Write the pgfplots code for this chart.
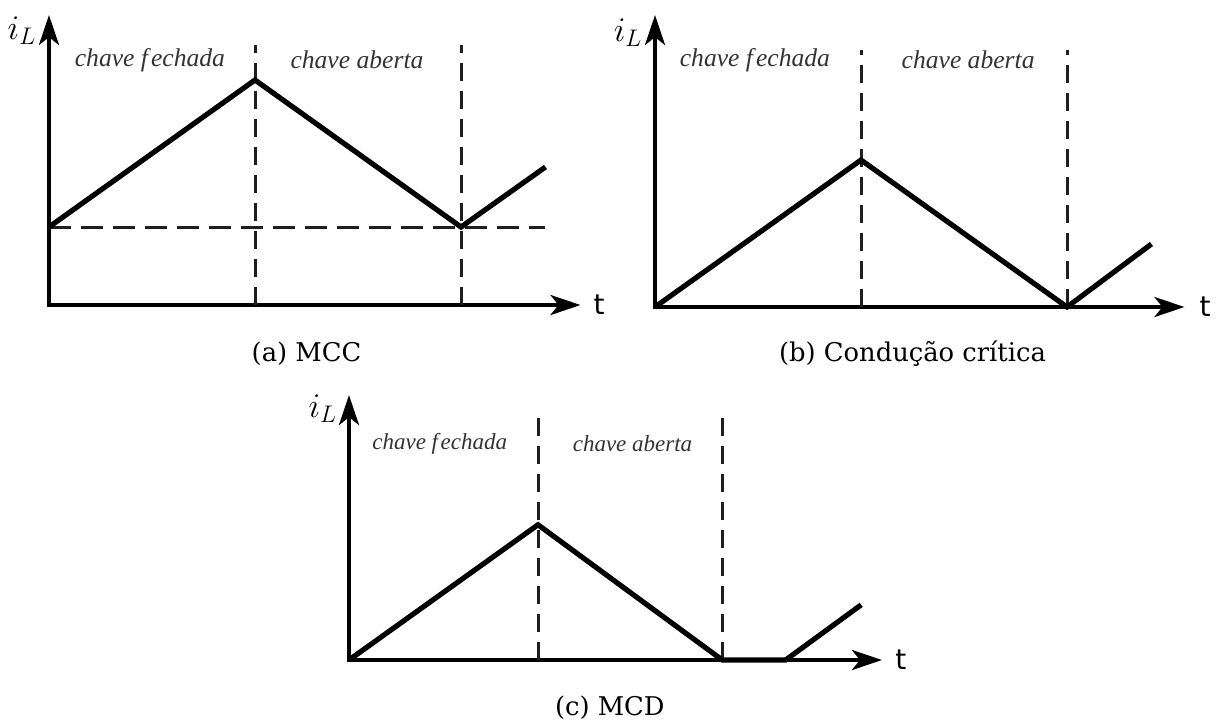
\documentclass[border=0pt]{standalone}
\usepackage{fontspec}
\setmainfont{DejaVu Serif}
\setsansfont{DejaVu Sans}
\newfontfamily\phasefont{Liberation Serif}
\usepackage{pgfplots}
\pgfplotsset{compat=1.18}
\usetikzlibrary{arrows.meta}

\pgfplotsset{
  wave/.style={
    axis lines=left, xtick=\empty, ytick=\empty,
    xmin=0, ymin=0, clip=false, anchor=south west,
    axis line style={line width=2pt, line cap=rect},
    x axis line style={-{Stealth[length=15pt,width=10pt,inset=4pt]}},
    y axis line style={-{Stealth[length=15pt,width=10pt,inset=4pt]}},
  },
  current/.style={line width=2.6pt, black, line join=miter, no markers},
  vguide/.style={line width=1.5pt, black!88, dash pattern=on 9pt off 5pt, no markers},
  hguide/.style={line width=1.5pt, black!88, dash pattern=on 11pt off 5pt, no markers},
}
\newcommand{\phase}[2][12.8]{{\fontsize{#1}{14}\selectfont\phasefont\itshape\color{black!80}#2}}
\newcommand{\ylab}{{\fontsize{18}{20}\selectfont$i_L$}}
\newcommand{\tlab}{{\fontsize{14}{16}\selectfont\sffamily t}}
\newcommand{\capt}[1]{{\fontsize{12.9}{15}\selectfont #1}}

\begin{document}
\begin{tikzpicture}
\path[use as bounding box] (0,0) rectangle (610pt,-362.5pt);

% (a) continuous conduction
\begin{axis}[wave, at={(24.5pt,-152.5pt)}, x=103pt, y=50pt, xmax=2.58, ymax=2.90]
  \addplot[hguide] coordinates {(0,0.78) (2.41,0.78)};
  \addplot[vguide] coordinates {(1,0) (1,2.60)};
  \addplot[vguide] coordinates {(2,0) (2,2.60)};
  \addplot[current] coordinates {(0,0.78) (1,2.25) (2,0.78) (2.41,1.38)};
  \node at (axis cs:-0.131,2.74) {\ylab};
  \node at (axis cs:2.67,0) {\tlab};
  \node at (axis cs:0.49,2.45) {\phase{chave f\kern1.5pt echada}};
  \node at (axis cs:1.495,2.45) {\phase{chave aberta}};
  \node at (axis cs:1.25,-0.49) {\capt{(a) MCC}};
\end{axis}

% (b) critical conduction
\begin{axis}[wave, at={(327.5pt,-153.5pt)}, x=103pt, y=50pt, xmax=2.57, ymax=2.92]
  \addplot[vguide] coordinates {(1,0) (1,2.57)};
  \addplot[vguide] coordinates {(2,0) (2,2.57)};
  \addplot[current] coordinates {(0,0) (1,1.47) (2,0) (2.41,0.63)};
  \node at (axis cs:-0.131,2.74) {\ylab};
  \node at (axis cs:2.67,0) {\tlab};
  \node at (axis cs:0.485,2.47) {\phase{chave f\kern1.5pt echada}};
  \node at (axis cs:1.52,2.47) {\phase{chave aberta}};
  \node at (axis cs:1.25,-0.47) {\capt{(b) Condução crítica}};
\end{axis}

% (c) discontinuous conduction
\begin{axis}[wave, at={(174.5pt,-330pt)}, x=94.5pt, y=46pt, xmax=2.82, ymax=2.88]
  \addplot[vguide] coordinates {(1,0) (1,2.63)};
  \addplot[vguide] coordinates {(1.975,0) (1.975,2.63)};
  \addplot[current] coordinates {(0,0) (1,1.47) (1.975,0) (2.31,0) (2.71,0.60)};
  \node at (axis cs:-0.138,2.73) {\ylab};
  \node at (axis cs:2.92,0) {\tlab};
  \node at (axis cs:0.48,2.35) {\phase[11.5]{chave f\kern1.3pt echada}};
  \node at (axis cs:1.50,2.35) {\phase[11.5]{chave aberta}};
  \node at (axis cs:1.38,-0.52) {\capt{(c) MCD}};
\end{axis}
\end{tikzpicture}
\end{document}
